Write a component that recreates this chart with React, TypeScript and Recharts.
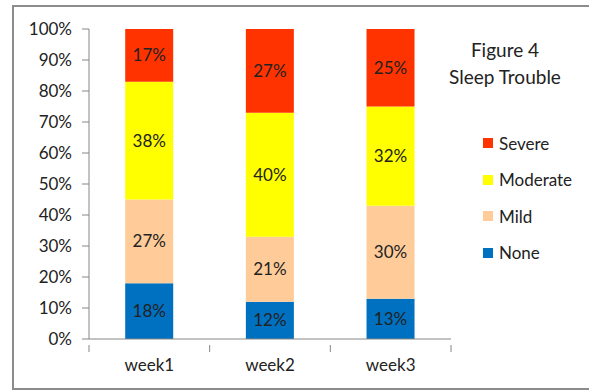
import React from "react";
import { BarChart, Bar, XAxis, YAxis, LabelList } from "recharts";

const weeks = ["week1", "week2", "week3"];
const none = [18, 12, 13];
const mild = [27, 21, 30];
const moderate = [38, 40, 32];
const severe = [17, 27, 25];
const yTicks = [0, 10, 20, 30, 40, 50, 60, 70, 80, 90, 100];

const series = [
  { key: "None", values: none, color: "#0070C0" },
  { key: "Mild", values: mild, color: "#FFCC99" },
  { key: "Moderate", values: moderate, color: "#FFFF00" },
  { key: "Severe", values: severe, color: "#FF3300" },
];

const data = weeks.map((w, i) => {
  const row: Record<string, any> = { week: w };
  series.forEach((s) => (row[s.key] = s.values[i]));
  return row;
});

const W = 589;
const H = 390;
const xAxisHeight = 30;
const margin = { top: 29, right: 138, bottom: 51 - xAxisHeight, left: 0 };
const yAxisWidth = 89;
const band = (W - margin.right - yAxisWidth) / weeks.length;
const font = "Lato, 'Noto Sans', sans-serif";
const axisColor = "#868686";

// category ticks sit on the band edges, label in the middle
const WeekTick = ({ x, y, payload, index }: any) => {
  const top = y - 14;
  return (
    <g>
      <line x1={x - band / 2} x2={x - band / 2} y1={top} y2={top + 7} stroke={axisColor} />
      {index === weeks.length - 1 && (
        <line x1={x + band / 2} x2={x + band / 2} y1={top} y2={top + 7} stroke={axisColor} />
      )}
      <text x={x} y={y} dy="0.71em" textAnchor="middle" fill="#222" fontSize={17} fontFamily={font}>
        {payload.value}
      </text>
    </g>
  );
};

const LegendBox = () => (
  <div
    style={{
      position: "absolute",
      left: 483,
      top: 125,
      fontFamily: font,
      fontSize: 17,
      color: "#222",
    }}
  >
    {[...series].reverse().map((s) => (
      <div key={s.key} style={{ display: "flex", alignItems: "center", height: 36.5 }}>
        <span style={{ width: 10, height: 10, background: s.color, marginRight: 6 }} />
        {s.key}
      </div>
    ))}
  </div>
);

export default function App() {
  return (
    <div style={{ position: "fixed", left: 0, top: 0, width: W, height: H, background: "#fff" }}>
      <div
        style={{
          position: "absolute",
          left: 12,
          top: 5,
          width: 600,
          height: 385,
          border: "2px solid #8c8c8c",
          boxSizing: "border-box",
        }}
      />
      <div
        style={{
          position: "absolute",
          left: 445,
          top: 36,
          width: 120,
          textAlign: "center",
          fontFamily: font,
          fontSize: 19,
          lineHeight: "27px",
          color: "#222",
          whiteSpace: "nowrap",
        }}
      >
        Figure 4
        <br />
        Sleep Trouble
      </div>
      <LegendBox />
      <BarChart
        width={W}
        height={H}
        data={data}
        margin={margin}
        barCategoryGap="30%"
        style={{ position: "absolute", left: 0, top: 0 }}
      >
        <XAxis
          dataKey="week"
          height={xAxisHeight}
          stroke={axisColor}
          tickLine={false}
          tickMargin={14}
          tick={<WeekTick />}
          interval={0}
        />
        <YAxis
          width={yAxisWidth}
          domain={[0, 100]}
          ticks={yTicks}
          tickFormatter={(v: number) => `${v}%`}
          stroke={axisColor}
          tickSize={7}
          tickMargin={10}
          tick={{ fill: "#222", fontSize: 17, fontFamily: font }}
          interval={0}
        />
        {series.map((s) => (
          <Bar key={s.key} dataKey={s.key} stackId="a" fill={s.color} isAnimationActive={false}>
            <LabelList
              dataKey={s.key}
              position="center"
              formatter={(v: any) => `${v}%`}
              fill="#222"
              fontSize={17}
              fontFamily={font}
            />
          </Bar>
        ))}
      </BarChart>
    </div>
  );
}
